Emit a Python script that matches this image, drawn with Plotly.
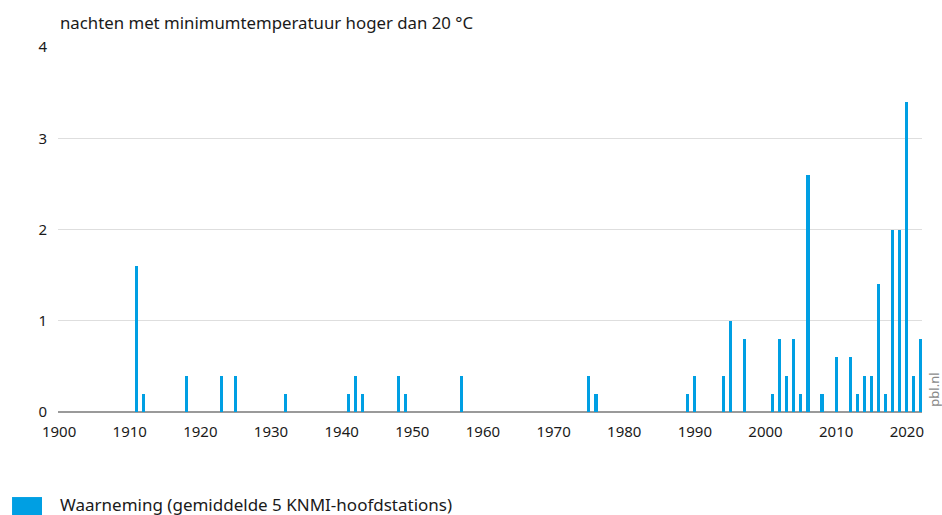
import plotly.graph_objects as go

years = [1911, 1912, 1918, 1923, 1925, 1932, 1941, 1942, 1943, 1948, 1949,
         1957, 1975, 1976, 1989, 1990, 1994, 1995, 1997,
         2001, 2002, 2003, 2004, 2005, 2006, 2008, 2010, 2012, 2013, 2014,
         2015, 2016, 2017, 2018, 2019, 2020, 2021, 2022]
values = [1.6, 0.2, 0.4, 0.4, 0.4, 0.2, 0.2, 0.4, 0.2, 0.4, 0.2,
          0.4, 0.4, 0.2, 0.2, 0.4, 0.4, 1.0, 0.8,
          0.2, 0.8, 0.4, 0.8, 0.2, 2.6, 0.2, 0.6, 0.6, 0.2, 0.4,
          0.4, 1.4, 0.2, 2.0, 2.0, 3.4, 0.4, 0.8]
x_ticks = list(range(1900, 2021, 10))
y_ticks = [0, 1, 2, 3, 4]

title_text = "nachten met minimumtemperatuur hoger dan 20 °C"
legend_text = "Waarneming (gemiddelde 5 KNMI-hoofdstations)"
source_text = "pbl.nl"

BLUE = "#009FE3"
FONT = "Noto Sans"
TXT = "#1a1a1a"

fig = go.Figure()
fig.add_trace(go.Bar(x=years, y=values, width=0.45, marker=dict(color=BLUE, line=dict(width=0)),
                     name=legend_text, showlegend=False, cliponaxis=False))

fig.update_layout(
    width=942, height=515,
    margin=dict(l=58, r=20, t=47, b=103, autoexpand=False),
    paper_bgcolor="white", plot_bgcolor="white",
    font=dict(family=FONT, size=15, color=TXT),
    showlegend=False,
    bargap=0,
)
fig.update_xaxes(range=[1899.85, 2022.15], tickvals=x_ticks, ticktext=[str(t) for t in x_ticks],
                 showgrid=False, zeroline=False, showline=False, ticks="",
                 tickfont=dict(size=15, color=TXT), ticklabelstandoff=9)
fig.update_yaxes(range=[0, 4], tickvals=y_ticks, showgrid=True, gridcolor="#dedede", gridwidth=1,
                 zeroline=True, zerolinecolor="#9a9a9a", zerolinewidth=1.5, showline=False, ticks="",
                 tickfont=dict(size=15, color=TXT), ticklabelstandoff=10)

fig.add_annotation(text=title_text, xref="paper", yref="paper", x=0, y=1.068,
                   xanchor="left", yanchor="middle", showarrow=False,
                   font=dict(family=FONT, size=16.8, color=TXT))
fig.add_annotation(text=source_text, xref="paper", yref="paper", x=1.0145, y=0.06,
                   xanchor="center", yanchor="middle", showarrow=False, textangle=-90,
                   font=dict(family=FONT, size=13, color="#8a8a8a"))
fig.add_shape(type="rect", xref="paper", yref="paper", x0=-0.0532, x1=-0.0185, y0=-0.30, y1=-0.233,
              fillcolor=BLUE, line=dict(width=0))
fig.add_annotation(text=legend_text, xref="paper", yref="paper", x=0, y=-0.254,
                   xanchor="left", yanchor="middle", showarrow=False,
                   font=dict(family=FONT, size=17, color=TXT))

fig.write_html("out.html", config={"displayModeBar": False},
               post_script="document.body.style.margin='0';document.body.style.overflow='hidden';")
